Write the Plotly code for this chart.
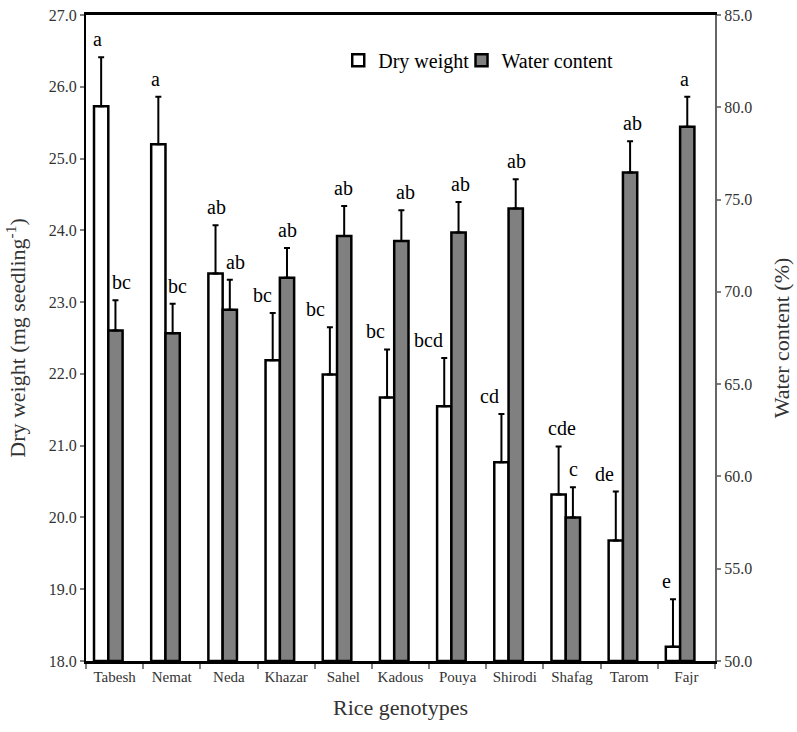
import plotly.graph_objects as go

genotypes = ["Tabesh", "Nemat", "Neda", "Khazar", "Sahel", "Kadous", "Pouya",
             "Shirodi", "Shafag", "Tarom", "Fajr"]
dry_weight = [25.73, 25.20, 23.40, 22.19, 21.99, 21.67, 21.55, 20.77, 20.32, 19.68, 18.20]
dry_err = [0.68, 0.66, 0.67, 0.66, 0.66, 0.67, 0.67, 0.67, 0.67, 0.68, 0.66]
dry_letters = ["a", "a", "ab", "bc", "bc", "bc", "bcd", "cd", "cde", "de", "e"]
water_content = [67.91, 67.76, 69.03, 70.77, 73.03, 72.75, 73.21, 74.51, 57.78, 76.46, 78.94]
water_err = [1.63, 1.60, 1.63, 1.60, 1.62, 1.67, 1.66, 1.59, 1.63, 1.70, 1.63]
water_letters = ["bc", "bc", "ab", "ab", "ab", "ab", "ab", "ab", "c", "ab", "a"]

# label nudges (pixels) relative to the error bar
dry_dx = [-4, -3, 1, -10, -14, -12, -16, -12, 3, -11, -6]
water_dx = [6, 5, 6, 1, -1, 4, 2, 1, 1, 2, -3]

FONT = "Times New Roman, Liberation Serif, DejaVu Serif, serif"
BW = 0.25
OFF_DRY = -0.36
OFF_WAT = -0.11
CAT_PX = 629 / 11
DRY_BASE = 18.0
WAT_BASE = 50.0

fig = go.Figure()
fig.add_trace(go.Bar(
    x=genotypes, y=[v - DRY_BASE for v in dry_weight], base=DRY_BASE,
    name="Dry weight", yaxis="y", legend="legend",
    width=BW, offset=OFF_DRY,
    marker=dict(color="white", line=dict(color="black", width=2.5)),
    error_y=dict(type="data", symmetric=False, array=dry_err,
                 arrayminus=[0] * len(dry_err), color="black", thickness=2, width=3),
))
fig.add_trace(go.Bar(
    x=genotypes, y=[w - WAT_BASE for w in water_content], base=WAT_BASE,
    name="Water content", yaxis="y2", legend="legend2",
    width=BW, offset=OFF_WAT,
    marker=dict(color="#808080", line=dict(color="black", width=2.5)),
    error_y=dict(type="data", symmetric=False, array=water_err,
                 arrayminus=[0] * len(water_err), color="black", thickness=2, width=3),
))

ann = []
cx_dry = (OFF_DRY + BW / 2) * CAT_PX
cx_wat = (OFF_WAT + BW / 2) * CAT_PX
for i, g in enumerate(genotypes):
    ann.append(dict(x=g, y=dry_weight[i] + dry_err[i], xref="x", yref="y",
                    text=dry_letters[i], showarrow=False, yanchor="bottom",
                    xshift=cx_dry + dry_dx[i], yshift=5,
                    font=dict(family=FONT, size=20, color="black")))
    ann.append(dict(x=g, y=water_content[i] + water_err[i], xref="x", yref="y2",
                    text=water_letters[i], showarrow=False, yanchor="bottom",
                    xshift=cx_wat + water_dx[i], yshift=5,
                    font=dict(family=FONT, size=20, color="black")))

legend_style = dict(orientation="h", y=0.93, xanchor="left", yanchor="middle",
                    font=dict(family=FONT, size=20, color="black"),
                    bgcolor="rgba(0,0,0,0)", itemwidth=30)

fig.update_layout(
    width=797, height=732,
    margin=dict(l=86, r=82, t=15, b=71),
    paper_bgcolor="white", plot_bgcolor="white",
    barmode="overlay",
    font=dict(family=FONT, color="#333333"),
    showlegend=True,
    legend=dict(x=0.401, **legend_style),
    legend2=dict(x=0.597, **legend_style),
    annotations=ann,
    xaxis=dict(
        type="category", showline=True, linecolor="black", linewidth=3, mirror=True,
        ticks="outside", tickson="boundaries", ticklen=5, tickcolor="#808080", tickwidth=2,
        tickangle=0, automargin=False,
        tickfont=dict(family=FONT, size=15, color="#333333"),
        showgrid=False, zeroline=False,
        title=dict(text="Rice genotypes", font=dict(family=FONT, size=22, color="#333333"),
                   standoff=16),
    ),
    yaxis=dict(
        range=[18.0, 27.0], dtick=1.0, tickformat=".1f", automargin=False,
        showline=True, linecolor="black", linewidth=2,
        ticks="outside", ticklen=4, tickcolor="#808080", tickwidth=2,
        tickfont=dict(family=FONT, size=16, color="#333333"),
        showgrid=False, zeroline=False,
        title=dict(text="Dry weight (mg seedling<sup>-1</sup>)",
                   font=dict(family=FONT, size=22, color="#333333"), standoff=17),
    ),
    yaxis2=dict(
        range=[50.0, 85.0], dtick=5.0, tickformat=".1f", overlaying="y", side="right",
        automargin=False,
        showline=True, linecolor="#666666", linewidth=2,
        ticks="outside", ticklen=4, tickcolor="#808080", tickwidth=2,
        tickfont=dict(family=FONT, size=16, color="#333333"),
        showgrid=False, zeroline=False,
        title=dict(text="Water content (%)",
                   font=dict(family=FONT, size=22, color="#333333"), standoff=22),
    ),
)

fig.write_html("out.html")
